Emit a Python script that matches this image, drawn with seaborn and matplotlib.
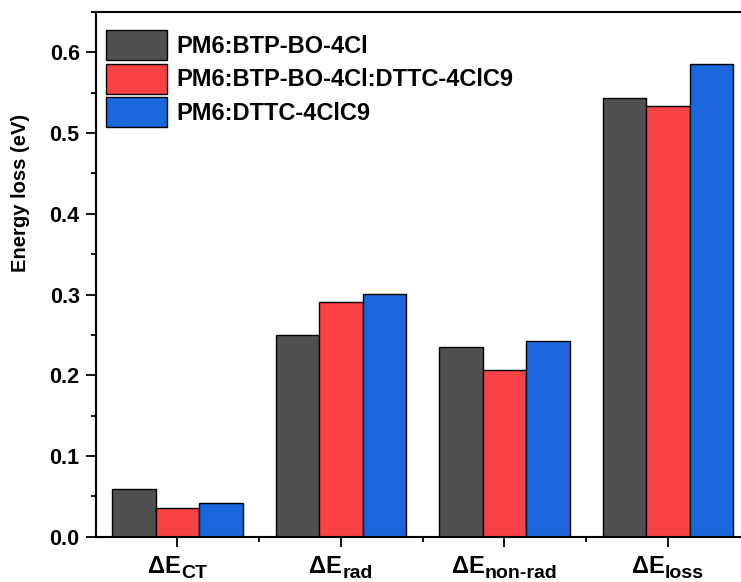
import matplotlib
matplotlib.use("Agg")
import matplotlib.pyplot as plt
import seaborn as sns
import pandas as pd
from matplotlib.ticker import FixedLocator, MultipleLocator
from matplotlib.transforms import IdentityTransform

categories = ["CT", "rad", "non-rad", "loss"]
main_label = "ΔE"
series = ["PM6:BTP-BO-4Cl", "PM6:BTP-BO-4Cl:DTTC-4ClC9", "PM6:DTTC-4ClC9"]
vals_bo = [0.059, 0.250, 0.235, 0.543]
vals_blend = [0.035, 0.291, 0.207, 0.534]
vals_dttc = [0.042, 0.301, 0.243, 0.586]
ytick_vals = [0.0, 0.1, 0.2, 0.3, 0.4, 0.5, 0.6]
ytick_labels = ["0.0", "0.1", "0.2", "0.3", "0.4", "0.5", "0.6"]
colors = ["#505050", "#F84245", "#1A67DC"]

df = pd.DataFrame({
    "cat": categories * 3,
    "series": [series[0]] * 4 + [series[1]] * 4 + [series[2]] * 4,
    "value": vals_bo + vals_blend + vals_dttc,
})

sns.set_style("ticks")
plt.rcParams["font.family"] = ["Liberation Sans", "DejaVu Sans"]
plt.rcParams["font.weight"] = "bold"
plt.rcParams["text.color"] = "black"
plt.rcParams["axes.labelcolor"] = "black"
plt.rcParams["xtick.color"] = "black"
plt.rcParams["ytick.color"] = "black"

fig = plt.figure(figsize=(7.41, 5.82), dpi=100)
ax = fig.add_axes([95.7 / 741, (582 - 536.7) / 582, (749.7 - 95.7) / 741, (536.7 - 12) / 582])

sns.barplot(data=df, x="cat", y="value", hue="series", palette=colors,
            order=categories, hue_order=series, width=0.8,
            edgecolor="black", linewidth=1.0, saturation=1, ax=ax)

ax.set_xlim(-0.5, 3.5)
ax.set_ylim(0, 0.65)
ax.set_yticks(ytick_vals)
ax.set_yticklabels(ytick_labels)
ax.yaxis.set_minor_locator(MultipleLocator(0.05))
ax.xaxis.set_minor_locator(FixedLocator([0.5, 1.5, 2.5]))

for s in ["left", "bottom", "top", "right"]:
    ax.spines[s].set_linewidth(1.5)
    ax.spines[s].set_color("black")

ax.tick_params(axis="both", which="major", direction="out", length=7, width=1.3,
               labelsize=15.5, colors="black", pad=4.5)
ax.tick_params(axis="both", which="minor", direction="out", length=3.8, width=1.3)
ax.tick_params(top=False, right=False, which="both")
for lab in ax.get_yticklabels():
    lab.set_fontweight("bold")

ax.set_xlabel("")
ax.set_xticks(range(len(categories)))
ax.set_xticklabels([""] * len(categories))
ax.set_ylabel("Energy loss (eV)", fontsize=14.5, fontweight="bold", color="black")
ax.yaxis.set_label_coords(-0.1005, 0.656)

handles, labels = ax.get_legend_handles_labels()
leg = ax.legend(handles, labels, loc="upper left",
                bbox_to_anchor=(106 / 741, 1 - 30 / 582), bbox_transform=fig.transFigure,
                frameon=False, handlelength=2.6, handleheight=1.578,
                handletextpad=0.4, labelspacing=0.15, borderpad=0, borderaxespad=0,
                prop={"weight": "bold", "size": 17})
for t in leg.get_texts():
    t.set_color("black")

# x tick labels: "ΔE" with larger subscripts
fig.canvas.draw()
renderer = fig.canvas.get_renderer()
main_size = 17
sub_size = 14
main_base = 582 - 573.3   # display px from bottom
sub_base = 582 - 578.5
for i, sub in enumerate(categories):
    t1 = fig.text(0, 0, main_label, fontsize=main_size, fontweight="bold",
                  transform=IdentityTransform(), va="baseline", ha="left")
    t2 = fig.text(0, 0, sub, fontsize=sub_size, fontweight="bold",
                  transform=IdentityTransform(), va="baseline", ha="left")
    w1 = t1.get_window_extent(renderer).width
    w2 = t2.get_window_extent(renderer).width
    xc = ax.transData.transform((i, 0))[0]
    x0 = xc - (w1 + w2) / 2
    t1.set_position((x0, main_base))
    t2.set_position((x0 + w1, sub_base))

fig.savefig("out.png", dpi=100)
